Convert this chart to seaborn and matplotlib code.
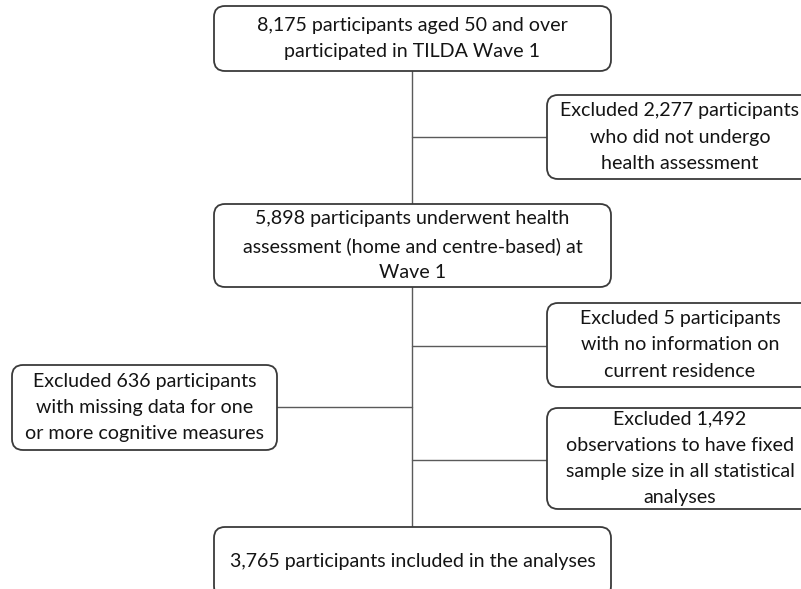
import matplotlib
matplotlib.use("Agg")
import matplotlib.pyplot as plt
import seaborn as sns
from matplotlib.patches import FancyBboxPatch

# flow counts and box texts
main_labels = [
    "8,175 participants aged 50 and over\nparticipated in TILDA Wave 1",
    "5,898 participants underwent health\nassessment (home and centre-based) at\nWave 1",
    "3,765 participants included in the analyses",
]
excl_labels = [
    "Excluded 2,277 participants\nwho did not undergo\nhealth assessment",
    "Excluded 5 participants\nwith no information on\ncurrent residence",
    "Excluded 636 participants\nwith missing data for one\nor more cognitive measures",
    "Excluded 1,492\nobservations to have fixed\nsample size in all statistical\nanalyses",
]

# layout in pixels: (left, top, right, bottom)
main_boxes = [(214, 6, 611, 71), (214, 204, 611, 287), (214, 527, 611, 597)]
excl_boxes = [(547, 95, 813, 179), (547, 303, 813, 387),
              (12, 365, 277, 450), (547, 408, 813, 509)]
branch_y = [137, 346, 407, 460]
spine_x = 412

sns.set_theme(style="white")
plt.rcParams["font.family"] = ["Lato", "DejaVu Sans"]

fig = plt.figure(figsize=(8.01, 5.89), dpi=100)
ax = fig.add_axes([0, 0, 1, 1])
ax.set_xlim(0, 801)
ax.set_ylim(589, 0)
ax.axis("off")

line_col = "#5a5a5a"
box_col = "#3a3a3a"

# vertical spine
ax.plot([spine_x, spine_x], [main_boxes[0][3], main_boxes[2][1]],
        color=line_col, lw=1.0, zorder=1)

# horizontal branches to exclusion boxes
for (l, t, r, b), y in zip(excl_boxes, branch_y):
    x_end = l if l > spine_x else r
    ax.plot([spine_x, x_end], [y, y], color=line_col, lw=1.0, zorder=1)


def draw_box(rect, text):
    l, t, r, b = rect
    patch = FancyBboxPatch((l, t), r - l, b - t,
                           boxstyle="round,pad=0,rounding_size=11",
                           fc="white", ec=box_col, lw=1.3, zorder=2)
    ax.add_patch(patch)
    ax.text((l + r) / 2, (t + b) / 2, text, ha="center", va="center",
            fontsize=14.1, color="#141414", linespacing=1.65, zorder=3)


for rect, txt in zip(main_boxes, main_labels):
    draw_box(rect, txt)
for rect, txt in zip(excl_boxes, excl_labels):
    draw_box(rect, txt)

fig.savefig("out.png", dpi=100, facecolor="white")
